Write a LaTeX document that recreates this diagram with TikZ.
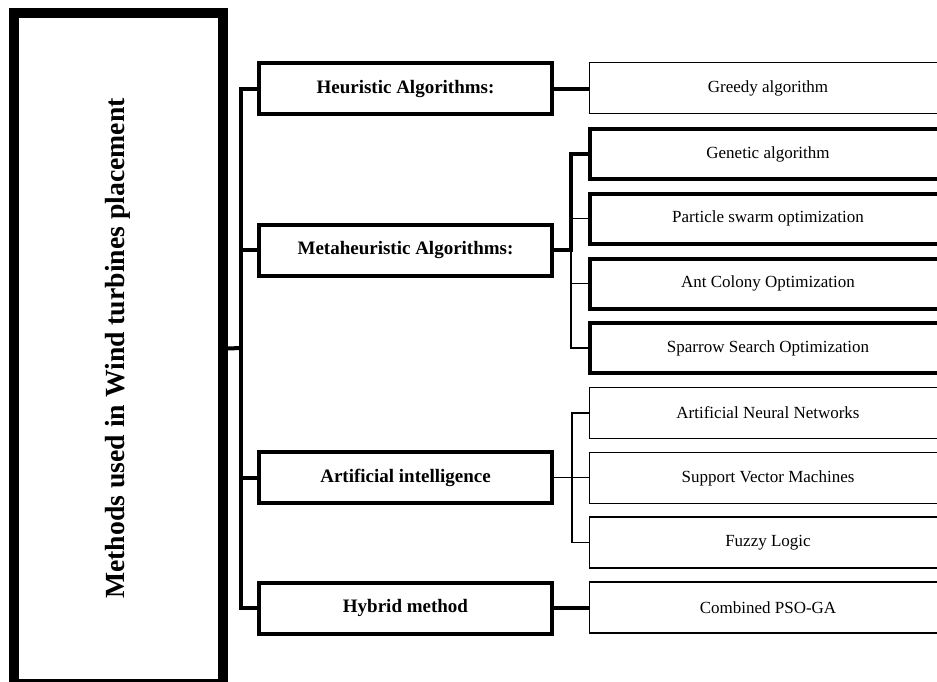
\documentclass[tikz,border=0pt]{standalone}
\usepackage{fontspec}
\setmainfont{Liberation Serif}
\begin{document}
\begin{tikzpicture}[x=1pt,y=-1pt,
  lvone/.style={draw=black,line width=4pt,minimum width=293pt,minimum height=51pt,inner sep=0pt,
     font=\fontsize{19}{22}\selectfont\bfseries},
  leafthick/.style={draw=black,line width=4pt,minimum width=356pt,minimum height=50pt,inner sep=0pt,
     font=\fontsize{17}{20}\selectfont},
  leafthin/.style={draw=black,line width=1.5pt,minimum width=357pt,minimum height=51pt,inner sep=0pt,
     font=\fontsize{17}{20}\selectfont},
  thickc/.style={draw=black,line width=4pt},
  thinc/.style={draw=black,line width=1.5pt}]
\useasboundingbox (0,0) rectangle (937,681);
\clip (0,0) rectangle (937,681);
\fill[white] (0,0) rectangle (937,681);
% main box
\node[draw=black,line width=10pt,rotate=90,minimum width=671pt,minimum height=209pt,inner sep=0pt,
  font=\fontsize{27.7}{32}\selectfont\bfseries] (main) at (118,348.5) {Methods used in Wind turbines placement};
% level one
\node[lvone] (heur) at (405.5,88.5) {Heuristic Algorithms:};
\node[lvone] (meta) at (405.5,250) {Metaheuristic Algorithms:};
\node[lvone] (ai) at (405.5,477.5) {Artificial intelligence};
\node[lvone] (hyb) at (405.5,608) {Hybrid method};
% leaves
\node[leafthin] (greedy) at (768,88) {Greedy algorithm};
\node[leafthick] (gen) at (768,154) {Genetic algorithm};
\node[leafthick] (pso) at (768,218.5) {Particle swarm optimization};
\node[leafthick] (aco) at (768,283.5) {Ant Colony Optimization};
\node[leafthick] (sso) at (768,348) {Sparrow Search Optimization};
\node[leafthin] (ann) at (768,413) {Artificial Neural Networks};
\node[leafthin] (svm) at (768,478) {Support Vector Machines};
\node[leafthin] (fuz) at (768,542.5) {Fuzzy Logic};
\node[leafthin] (comb) at (768,607.5) {Combined PSO-GA};
% trunk
\coordinate (tr) at (241,348);
\draw[thickc] (main.south) -- (tr);
\draw[thickc] (heur.west) -| (tr) |- (hyb.west);
\draw[thickc] (meta.west) -- (meta.west -| tr);
\draw[thickc] (ai.west) -- (ai.west -| tr);
% heuristic
\draw[thickc] (heur.east) -- (heur.east -| greedy.west);
% metaheuristic
\coordinate (mj) at (571,250);
\draw[thickc] (meta.east) -- (mj) |- (gen.west);
\draw[thinc] (mj) |- (sso.west);
\draw[thinc] (pso.west) -- (pso.west -| mj);
\draw[thinc] (aco.west) -- (aco.west -| mj);
% AI
\coordinate (aj) at (572,478);
\draw[thinc] (ai.east) -- (ai.east -| svm.west);
\draw[thinc] (ann.west) -- (ann.west -| aj) -- (fuz.west -| aj) -- (fuz.west);
% hybrid
\draw[thickc] (hyb.east) -- (hyb.east -| comb.west);
\end{tikzpicture}
\end{document}
